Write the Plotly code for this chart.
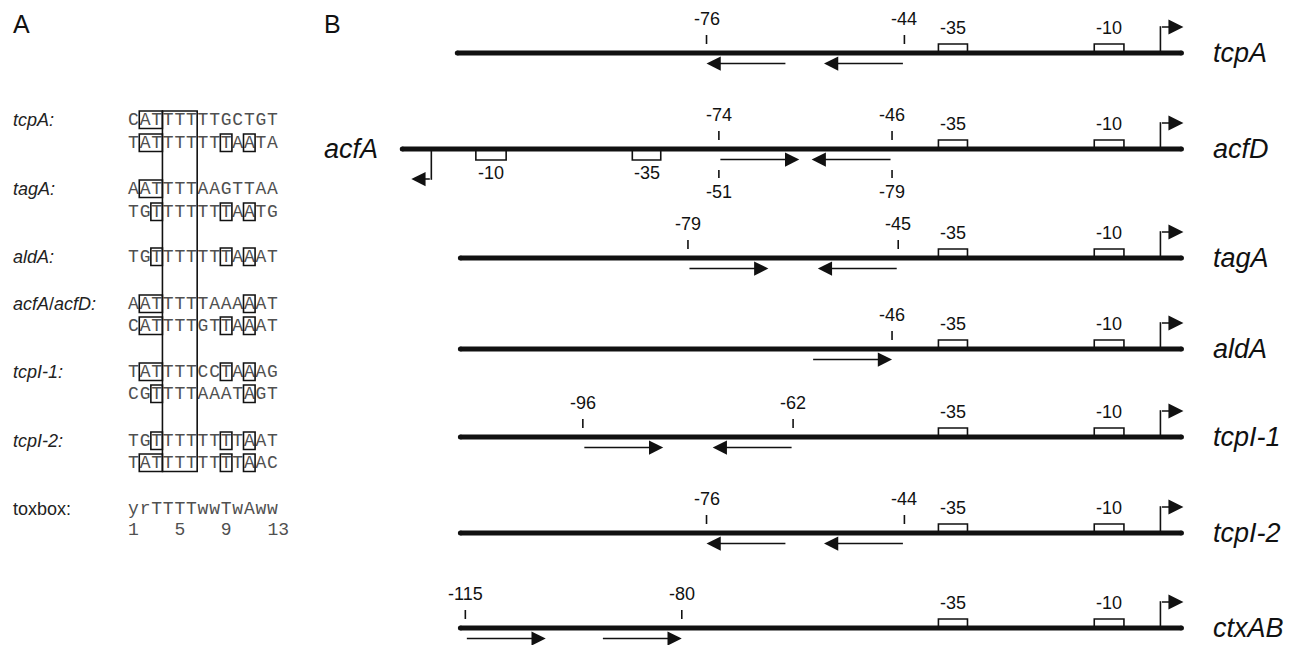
import plotly.graph_objects as go

W, H = 1302, 645
INK = "#111111"
SEQ_INK = "#505050"
SANS = "Liberation Sans, Arial, sans-serif"
MONO = "Liberation Mono, Courier New, monospace"

# ---------------- Panel A: aligned toxbox sequences ----------------
seq_groups = ["<i>tcpA:</i>", "<i>tagA:</i>", "<i>aldA:</i>",
              "<i>acfA</i>/<i>acfD:</i>", "<i>tcpI-1:</i>", "<i>tcpI-2:</i>"]
seq_lines = [
    ["CATTTTTTGCTGT", "TATTTTTTTAATA"],
    ["AATTTTAAGTTAA", "TGTTTTTTTAATG"],
    ["TGTTTTTTTAAAT"],
    ["AATTTTTAAAAAT", "CATTTTGTTAAAT"],
    ["TATTTTCCTAAAG", "CGTTTTAAATAGT"],
    ["TGTTTTTTTTAAT", "TATTTTTTTTAAC"],
]
# boxed column ranges (1-based, inclusive) on each line
seq_boxes = [
    [[(2, 3)], [(2, 3), (9, 9), (11, 11)]],
    [[(2, 3)], [(3, 3), (9, 9), (11, 11)]],
    [[(3, 3), (9, 9), (11, 11)]],
    [[(2, 3), (11, 11)], [(2, 3), (9, 9), (11, 11)]],
    [[(2, 3), (9, 9), (11, 11)], [(3, 3), (11, 11)]],
    [[(3, 3), (9, 9), (11, 11)], [(2, 3), (9, 9), (11, 11)]],
]
core_cols = (4, 6)
consensus_label = "toxbox:"
consensus = "yrTTTTwwTwAww"
consensus_numbers = [1, 5, 9, 13]

# ---------------- Panel B: promoter maps (bp from the start site) ----------------
genes = ["tcpA", "acfD", "tagA", "aldA", "tcpI-1", "tcpI-2", "ctxAB"]
line_start = [-116.3, -125.2, -115.8, -115.8, -115.8, -115.8, -115.8]
line_end = 0.8
site_ticks = [[-76, -44], [-74, -46], [-79, -45], [-46], [-96, -62], [-76, -44], [-115, -80]]
# binding-site arrows as (tail, head)
sites = [
    [(-63, -76), (-44, -57)],
    [(-74, -61), (-46, -59)],
    [(-79, -66), (-45, -58)],
    [(-59, -46)],
    [(-96, -83), (-62, -75)],
    [(-63, -76), (-44, -57)],
    [(-115, -102), (-93, -80)],
]
box_m35 = (-38.5, -33.8)
box_m10 = (-13.3, -8.5)
tss = -2.6
# divergent acfA promoter, in acfA coordinates (acfA pos + acfD pos = ACF_SUM)
ACF_SUM = -125
acfA_ticks = [-51, -79]
acfA_m10 = (-16.6, -11.7)
acfA_m35 = (-41.6, -37.0)
acfA_tss = -4.5

# ---------------- geometry ----------------
B_ORIGIN_PX, B_PX_PER_BP = 1176.5, 6.184
A_FIRST_COL_PX, A_PX_PER_COL = 127.7, 11.58
seq_y = [[120, 143], [189, 212], [257], [304, 326], [372, 394], [441, 463]]
consensus_y, numbering_y = 509, 530
row_y = [53, 149, 258, 349, 437, 533, 628]

x_range_b = [-B_ORIGIN_PX / B_PX_PER_BP, (W - B_ORIGIN_PX) / B_PX_PER_BP]
x_range_acfA = [ACF_SUM - x_range_b[0], ACF_SUM - x_range_b[1]]
x_range_a = [0.5 - A_FIRST_COL_PX / A_PX_PER_COL,
             0.5 + (W - A_FIRST_COL_PX) / A_PX_PER_COL]

fig = go.Figure()
shapes, annotations = [], []


def text(t, x, y, xref="x", size=18, xanchor="center", color=INK):
    annotations.append(dict(text=t, x=x, y=y, xref=xref, yref="y", showarrow=False,
                            xanchor=xanchor, yanchor="middle",
                            font=dict(family=SANS, size=size, color=color)))


def arrow(tail, head, y, xref="x", size=1.9):
    annotations.append(dict(text="", x=head, y=y, ax=tail, ay=y, xref=xref, yref="y",
                            axref=xref, ayref="y", showarrow=True, arrowhead=2,
                            arrowsize=size, arrowwidth=1.5, arrowcolor=INK,
                            standoff=0, startstandoff=0))


def seg(x0, y0, x1, y1, xref="x", width=1.6):
    shapes.append(dict(type="line", x0=x0, y0=y0, x1=x1, y1=y1, xref=xref, yref="y",
                       line=dict(color=INK, width=width)))


def open_box(a, b, y, h, xref="x"):
    shapes.append(dict(type="path", xref=xref, yref="y",
                       path=f"M{a},{y} L{a},{y + h} L{b},{y + h} L{b},{y}",
                       line=dict(color=INK, width=1.6)))


# ---- Panel A ----
letters_x, letters_y, letters_t = [], [], []
for g, lines in enumerate(seq_lines):
    text(seq_groups[g], 11 / W, seq_y[g][0], xref="paper", xanchor="left", color="#222")
    for k, s in enumerate(lines):
        y = seq_y[g][k]
        for c, ch in enumerate(s, start=1):
            letters_x.append(c)
            letters_y.append(y)
            letters_t.append(ch)
        for c0, c1 in seq_boxes[g][k]:
            shapes.append(dict(type="rect", xref="x2", yref="y", x0=c0 - 0.5, x1=c1 + 0.5,
                               y0=y - 9, y1=y + 8.5, line=dict(color=INK, width=1.6)))
for c, ch in enumerate(consensus, start=1):
    letters_x.append(c)
    letters_y.append(consensus_y)
    letters_t.append(ch)
for n in consensus_numbers:
    letters_x.append(n + (0.5 if n >= 10 else 0))
    letters_y.append(numbering_y)
    letters_t.append(str(n))
text(consensus_label, 11 / W, consensus_y, xref="paper", xanchor="left", color="#222")
shapes.append(dict(type="rect", xref="x2", yref="y", x0=core_cols[0] - 0.5,
                   x1=core_cols[1] + 0.5, y0=seq_y[0][0] - 9, y1=seq_y[-1][-1] + 8.5,
                   line=dict(color=INK, width=1.6)))

fig.add_trace(go.Scatter(x=letters_x, y=letters_y, text=letters_t, mode="text",
                         textposition="middle center",
                         textfont=dict(family=MONO, size=18, color=SEQ_INK),
                         xaxis="x2", yaxis="y", hoverinfo="skip", showlegend=False))

# ---- Panel B ----
dna_x, dna_y = [], []
tss_len = 23 / B_PX_PER_BP
for i, gname in enumerate(genes):
    y = row_y[i]
    dna_x += [line_start[i], line_end, None]
    dna_y += [y, y, None]
    # core promoter elements
    for (a, b), lab in ((box_m35, "-35"), (box_m10, "-10")):
        open_box(a, b, y, -9)
        text(lab, (a + b) / 2, y - 25)
    # transcription start
    seg(tss, y - 2, tss, y - 26.8)
    arrow(tss, tss + tss_len, y - 26, size=2.0)
    # site boundaries
    for t in site_ticks[i]:
        seg(t, y - 18, t, y - 9)
        text(str(t), t, y - 34)
    for tail, head in sites[i]:
        arrow(tail, head, y + 10.5)
    text(f"<i>{gname}</i>", 1211 / W, y, xref="paper", xanchor="left", size=27)

# divergent acfA promoter below the acfD row
ya = row_y[1]
for (a, b), lab in ((acfA_m10, "-10"), (acfA_m35, "-35")):
    open_box(a, b, ya, 11, xref="x3")
    text(lab, (a + b) / 2, ya + 24, xref="x3")
seg(acfA_tss, ya + 2, acfA_tss, ya + 30.8, xref="x3")
arrow(acfA_tss, acfA_tss + 20 / B_PX_PER_BP, ya + 30, xref="x3", size=1.9)
for t in acfA_ticks:
    seg(t, ya + 21, t, ya + 29, xref="x3")
    text(str(t), t, ya + 43, xref="x3")
text("<i>acfA</i>", 380 / W, ya, xref="paper", xanchor="right", size=27)

fig.add_trace(go.Scatter(x=dna_x, y=dna_y, mode="lines+markers",
                         line=dict(color=INK, width=5),
                         marker=dict(size=5, color=INK, line=dict(width=0)),
                         hoverinfo="skip", showlegend=False))
fig.add_trace(go.Scatter(x=[x_range_acfA[0]], y=[-100], mode="markers",
                         marker=dict(size=1, opacity=0), xaxis="x3", yaxis="y",
                         hoverinfo="skip", showlegend=False))

# panel letters
text("A", 11 / W, 24, xref="paper", xanchor="left", size=25)
text("B", 322 / W, 24, xref="paper", xanchor="left", size=25)

hidden = dict(visible=False, showgrid=False, zeroline=False, fixedrange=True)
fig.update_layout(
    width=W, height=H, autosize=False,
    margin=dict(l=0, r=0, t=0, b=0),
    paper_bgcolor="white", plot_bgcolor="white",
    xaxis=dict(range=x_range_b, domain=[0, 1], **hidden),
    xaxis2=dict(range=x_range_a, overlaying="x", anchor="y", **hidden),
    xaxis3=dict(range=x_range_acfA, overlaying="x", anchor="y", **hidden),
    yaxis=dict(range=[H, 0], domain=[0, 1], **hidden),
    shapes=shapes, annotations=annotations, showlegend=False,
)
fig.write_html("out.html")
